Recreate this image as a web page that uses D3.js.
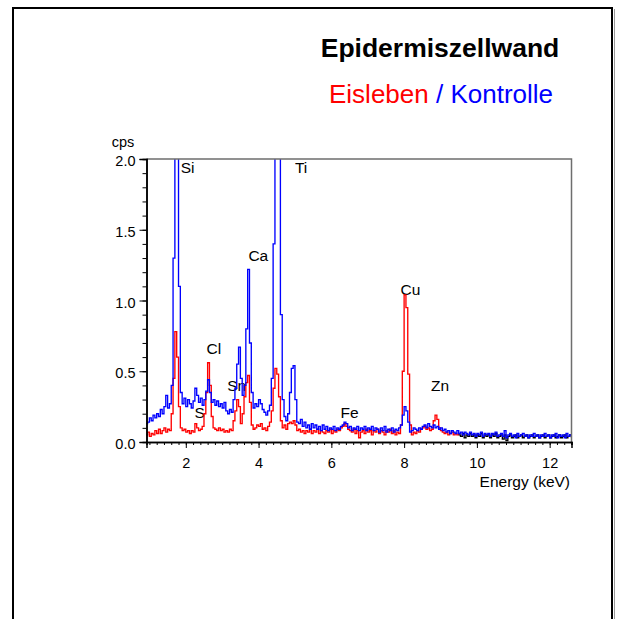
<!DOCTYPE html>
<html>
<head>
<meta charset="utf-8">
<script src="https://cdn.jsdelivr.net/npm/d3@7"></script>
<style>
  html, body { margin: 0; padding: 0; background: #fff; }
  svg { display: block; font-family: "Liberation Sans", Arial, sans-serif; }
</style>
</head>
<body>
<svg id="chart" width="626" height="619"></svg>
<script>
// EDX spectrum of the epidermal cell wall: Eisleben (red) vs. control (blue).
// Channels are 0.05 keV wide, starting at 0.90 keV.
const channelStart = 0.90;
const channelWidth = 0.05;

// Control ("Kontrolle"), 0.90 – 12.60 keV, counts per second
const kontrolle = [
  0.13,0.14,0.17,0.15,0.19,0.17,0.20,0.18,0.23,0.20,
  0.25,0.33,0.24,0.27,0.40,1.30,3.20,3.40,1.10,0.35,
  0.27,0.31,0.25,0.30,0.27,0.24,0.29,0.38,0.33,0.28,
  0.31,0.26,0.30,0.36,0.44,0.35,0.28,0.30,0.26,0.29,
  0.25,0.27,0.24,0.28,0.22,0.20,0.23,0.21,0.30,0.38,
  0.55,0.67,0.45,0.33,0.40,0.80,1.22,0.70,0.35,0.24,
  0.27,0.25,0.30,0.27,0.23,0.21,0.19,0.22,0.26,0.45,
  1.40,3.60,4.20,2.80,0.90,0.30,0.18,0.15,0.20,0.35,
  0.52,0.54,0.30,0.14,0.13,0.16,0.11,0.14,0.10,0.12,
  0.09,0.13,0.10,0.12,0.09,0.11,0.08,0.12,0.09,0.11,
  0.08,0.10,0.09,0.11,0.08,0.10,0.09,0.11,0.12,0.14,
  0.13,0.10,0.11,0.08,0.10,0.09,0.11,0.08,0.10,0.09,
  0.11,0.08,0.10,0.09,0.11,0.08,0.10,0.09,0.07,0.10,
  0.08,0.11,0.07,0.09,0.08,0.10,0.07,0.09,0.08,0.10,
  0.12,0.19,0.25,0.22,0.14,0.07,0.08,0.10,0.09,0.08,
  0.10,0.09,0.11,0.12,0.10,0.13,0.11,0.10,0.12,0.10,
  0.11,0.09,0.10,0.08,0.09,0.07,0.08,0.06,0.08,0.07,
  0.06,0.08,0.06,0.07,0.05,0.07,0.06,0.05,0.07,0.05,
  0.06,0.04,0.06,0.05,0.07,0.04,0.06,0.05,0.06,0.04,
  0.06,0.05,0.07,0.04,0.05,0.06,0.04,0.08,0.03,0.05,
  0.06,0.04,0.05,0.03,0.06,0.04,0.05,0.06,0.04,0.05,
  0.03,0.05,0.04,0.06,0.04,0.05,0.03,0.05,0.04,0.06,
  0.04,0.05,0.03,0.05,0.04,0.06,0.03,0.05,0.04,0.05,
  0.03,0.06,0.04,0.05,0.04
];

// Eisleben, 0.90 – 9.50 keV
const eisleben = [
  0.05,0.07,0.04,0.06,0.05,0.08,0.06,0.09,0.06,0.08,
  0.10,0.07,0.09,0.08,0.20,0.45,0.78,0.60,0.25,0.10,
  0.08,0.09,0.07,0.08,0.06,0.08,0.07,0.13,0.10,0.08,
  0.09,0.11,0.20,0.35,0.56,0.40,0.18,0.10,0.09,0.08,
  0.10,0.08,0.09,0.07,0.08,0.07,0.09,0.08,0.15,0.22,
  0.30,0.25,0.13,0.20,0.32,0.42,0.47,0.28,0.12,0.09,
  0.10,0.12,0.11,0.13,0.09,0.10,0.08,0.11,0.14,0.22,
  0.38,0.52,0.48,0.32,0.15,0.10,0.12,0.09,0.13,0.14,
  0.13,0.15,0.12,0.08,0.09,0.07,0.08,0.06,0.08,0.07,
  0.09,0.06,0.08,0.07,0.09,0.06,0.08,0.07,0.06,0.08,
  0.07,0.09,0.06,0.08,0.07,0.09,0.08,0.10,0.11,0.13,
  0.11,0.09,0.08,0.07,0.09,0.06,0.08,0.03,0.07,0.08,
  0.06,0.09,0.07,0.08,0.05,0.08,0.07,0.09,0.06,0.08,
  0.07,0.05,0.08,0.07,0.09,0.06,0.08,0.05,0.07,0.06,
  0.12,0.50,1.04,0.95,0.48,0.12,0.05,0.07,0.06,0.08,
  0.07,0.09,0.10,0.11,0.09,0.10,0.08,0.09,0.15,0.19,
  0.16,0.10,0.08,0.07,0.06,0.07,0.05,0.06,0.07,0.05,
  0.06,0.05,0.06
];

// Continuation of the Eisleben record drawn in black, 9.50 – 12.60 keV
const eislebenTailStart = 9.50;
const eislebenTail = [
  0.05,0.04,0.06,0.03,0.05,0.04,0.06,0.04,0.05,0.03,
  0.05,0.04,0.06,0.03,0.05,0.04,0.05,0.03,0.05,0.04,
  0.06,0.03,0.04,0.05,0.02,0.05,0.01,0.04,0.05,0.03,
  0.04,0.05,0.03,0.04,0.05,0.03,0.04,0.05,0.03,0.04,
  0.05,0.03,0.04,0.05,0.03,0.04,0.05,0.03,0.04,0.05,
  0.03,0.04,0.05,0.03,0.04,0.05,0.03,0.04,0.05,0.03,
  0.04,0.05,0.03
];

// Element lines marked in the spectrum
const elements = ["Si", "Ti", "Ca", "Cl", "Sn", "S", "Fe", "Cu", "Zn"];
const elementEnergy = [1.86, 5.00, 3.72, 2.57, 3.14, 2.24, 6.25, 7.90, 8.74];
const elementLevel  = [1.90, 1.90, 1.28, 0.62, 0.36, 0.17, 0.17, 1.04, 0.36];

const yMajorTicks = [0, 0.5, 1.0, 1.5, 2.0];
const xMajorTicks = [2, 4, 6, 8, 10, 12];

(function draw() {
  const svg = d3.select("#chart");

  // Outer frame
  svg.append("path")
    .attr("d", "M13,625V8H612V625")
    .attr("fill", "none").attr("stroke", "#000").attr("stroke-width", 2);
  svg.append("line")
    .attr("x1", 614.5).attr("x2", 614.5).attr("y1", 9).attr("y2", 625)
    .attr("stroke", "#9a9a9a").attr("stroke-width", 1);

  // Titles
  svg.append("text")
    .attr("x", 440).attr("y", 56.5)
    .attr("text-anchor", "middle")
    .attr("font-size", 26.5).attr("font-weight", "bold")
    .text("Epidermiszellwand");
  const sub = svg.append("text")
    .attr("x", 441).attr("y", 102.5)
    .attr("text-anchor", "middle")
    .attr("font-size", 26);
  sub.append("tspan").attr("fill", "#ff0000").text("Eisleben");
  sub.append("tspan").attr("fill", "#0000ff").text(" / Kontrolle");

  // Plot geometry
  const pLeft = 146.5, pRight = 571.5, pTop = 159, pBottom = 442;
  const x = d3.scaleLinear().domain([0.92, 12.6]).range([pLeft, pRight]);
  const y = d3.scaleLinear().domain([0, 2]).range([pBottom, pTop]);

  svg.append("defs").append("clipPath").attr("id", "plotClip")
    .append("rect")
    .attr("x", pLeft).attr("y", pTop)
    .attr("width", pRight - pLeft).attr("height", bottomOf(pBottom, pTop));

  function bottomOf(b, t) { return b - t; }

  // Element labels (underneath the traces)
  svg.append("g")
    .attr("font-size", 15.5)
    .selectAll("text")
    .data(elements)
    .join("text")
    .attr("x", (d, i) => x(elementEnergy[i]))
    .attr("y", (d, i) => y(elementLevel[i]))
    .attr("text-anchor", "start")
    .text(d => d);

  // Traces
  const line = (start) => d3.line()
    .x((d, i) => x(start + i * channelWidth))
    .y(d => y(d))
    .curve(d3.curveStepAfter);

  const traces = svg.append("g").attr("clip-path", "url(#plotClip)");
  traces.append("path")
    .attr("d", line(channelStart)(eisleben))
    .attr("fill", "none").attr("stroke", "#ff0000").attr("stroke-width", 1.35);
  traces.append("path")
    .attr("d", line(eislebenTailStart)(eislebenTail))
    .attr("fill", "none").attr("stroke", "#000000").attr("stroke-width", 1.35);
  traces.append("path")
    .attr("d", line(channelStart)(kontrolle))
    .attr("fill", "none").attr("stroke", "#0000ff").attr("stroke-width", 1.35);

  // Plot box: top and right edges
  svg.append("path")
    .attr("d", `M${pLeft},${pTop}H${pRight}V${pBottom}`)
    .attr("fill", "none").attr("stroke", "#6e6e6e").attr("stroke-width", 1.5);

  // Y axis
  const yMinor = svg.append("g").attr("transform", `translate(${pLeft},0)`)
    .call(d3.axisLeft(y).tickValues(d3.range(0, 21).map(k => k / 10)).tickSize(4).tickFormat(""));
  const yMajor = svg.append("g").attr("transform", `translate(${pLeft},0)`)
    .call(d3.axisLeft(y).tickValues(yMajorTicks).tickSize(7).tickPadding(4).tickFormat(d3.format(".1f")));
  yMajor.selectAll("text").attr("dy", null).attr("y", 6.5)
    .attr("font-size", 14.5).attr("font-family", "Liberation Sans, Arial, sans-serif").attr("fill", "#000");

  // X axis
  const xMinor = svg.append("g").attr("transform", `translate(0,${pBottom})`)
    .call(d3.axisBottom(x).tickValues(d3.range(5, 64).map(k => k / 5)).tickSize(3).tickFormat(""));
  const xMajor = svg.append("g").attr("transform", `translate(0,${pBottom})`)
    .call(d3.axisBottom(x).tickValues(xMajorTicks).tickSize(6).tickFormat(d3.format("d")));
  xMajor.selectAll("text").attr("dy", null).attr("y", 25.5)
    .attr("font-size", 14.5).attr("font-family", "Liberation Sans, Arial, sans-serif").attr("fill", "#000");

  [yMinor, yMajor, xMinor, xMajor].forEach(g => {
    g.select(".domain").attr("stroke", "#000").attr("stroke-width", 1.5);
    g.selectAll(".tick line").attr("stroke", "#000").attr("stroke-width", 1);
  });

  // Axis titles
  svg.append("text")
    .attr("x", 123).attr("y", 147)
    .attr("text-anchor", "middle").attr("font-size", 14.5)
    .text("cps");
  svg.append("text")
    .attr("x", 570).attr("y", 486.5)
    .attr("text-anchor", "end").attr("font-size", 15.5)
    .text("Energy (keV)");
})();
</script>
</body>
</html>
